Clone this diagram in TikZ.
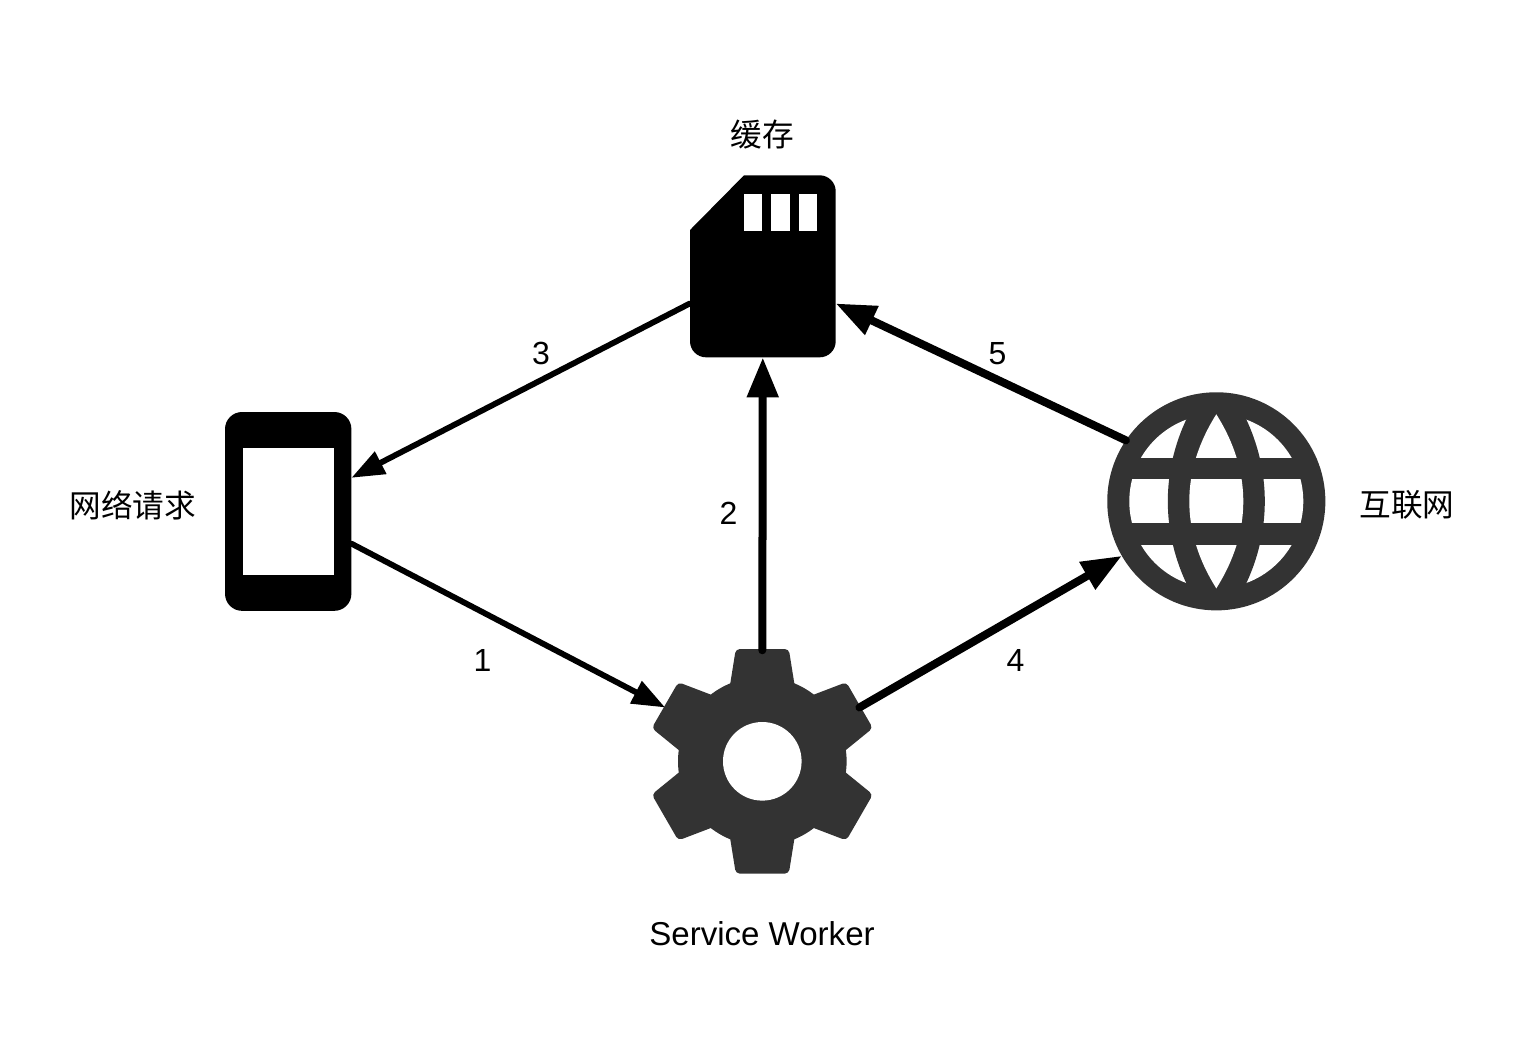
\documentclass[tikz,border=0pt]{standalone}
\usepackage{fontspec}
\usepackage{tikz}
\usetikzlibrary{arrows.meta}
\setmainfont{Liberation Sans}
\newfontfamily\cjk{Noto Sans CJK SC}
\definecolor{icongray}{HTML}{333333}
\tikzset{
  x=0.01cm, y=-0.01cm,
  label text/.style={font=\fontsize{9.1}{11}\selectfont, inner sep=0pt},
  cjk text/.style={font=\cjk\fontsize{9}{11}\selectfont, inner sep=0pt},
  thin link/.style={line width=0.058cm, line cap=round, -{Triangle[length=0.33cm,width=0.24cm]}},
  thick link/.style={line width=0.08cm, line cap=round, -{Triangle[length=0.4cm,width=0.3cm]}},
  icon box/.style={shape=rectangle, inner sep=0pt, outer sep=0pt},
  icon disc/.style={shape=circle, inner sep=0pt, outer sep=0pt}
}

\begin{document}
\begin{tikzpicture}
\useasboundingbox (0,0) rectangle (1530,1038);

\node[icon box, fill=black, rounded corners=0.17cm, minimum width=1.263cm, minimum height=1.987cm] (phone) at (288.2,511.4) {};
\fill[white] (243,448) rectangle (333.7,574.7);

\node[icon box, minimum width=1.457cm, minimum height=1.82cm] (card) at (762.8,266.3) {};
\fill[black] (744,175.3) -- (780,175.3) [rounded corners=0.16cm] -- (835.7,175.3) -- (835.7,357.3) -- (690,357.3) -- (690,300) [sharp corners] -- (690,230) -- cycle;
\foreach \x in {744,771.3,798.7} {
  \fill[white] (\x,194) rectangle ++(18.3,36.7);
}

\node[icon disc, minimum size=2.22cm] (gear) at (762.3,761.3) {};
\begin{scope}[shift={(gear.center)}]
\fill[icongray] (0,0) circle (84.3);
\foreach \a in {0,60,...,300} {
  \fill[icongray, rotate=\a, rounded corners=0.04cm] (-36.5,-50) -- (-26.5,-112.3) -- (26.5,-112.3) -- (36.5,-50) -- cycle;
}
\fill[white] (0,0) circle (39.3);
\end{scope}

\node[icon disc, fill=icongray, minimum size=2.18cm] (globe) at (1216.3,501.3) {};
\begin{scope}[shift={(globe.center)}]
\fill[white] (0,0) circle (87);
\foreach \s in {-1,1} {
  \fill[icongray] (0,-92) -- (\s*29,-92) -- (\s*29,-84) .. controls (\s*55,-30) and (\s*55,30) .. (\s*29,84) -- (\s*29,92) -- (0,92) -- cycle;
}
\fill[white] (0,-87) .. controls (36,-30) and (36,30) .. (0,87) .. controls (-36,30) and (-36,-30) .. cycle;
\fill[icongray] (-96,-43.7) rectangle (96,-22);
\fill[icongray] (-96,22) rectangle (96,43.7);
\end{scope}

\node[cjk text] (cardlabel) at (762,135) {缓存};
\node[cjk text] (phonelabel) at (133,505) {网络请求};
\node[cjk text] (globelabel) at (1407,505) {互联网};
\node[label text, font=\fontsize{9.4}{11}\selectfont] (gearlabel) at (762,934) {Service Worker};

\draw[thin link] (phone.-27) -- (gear.151.6);
\draw[thick link] (gear.90) -- (card.270);
\draw[thin link] (card.207.3) -- (phone.28.5);
\draw[thick link] (gear.29.6) -- (globe.210);
\draw[thick link] (globe.146.3) -- (card.333);

\node[label text] (one) at (482.5,660) {1};
\node[label text] (two) at (728.5,513) {2};
\node[label text] (three) at (541,353) {3};
\node[label text] (four) at (1015.5,660) {4};
\node[label text] (five) at (997.5,353.5) {5};
\end{tikzpicture}
\end{document}
